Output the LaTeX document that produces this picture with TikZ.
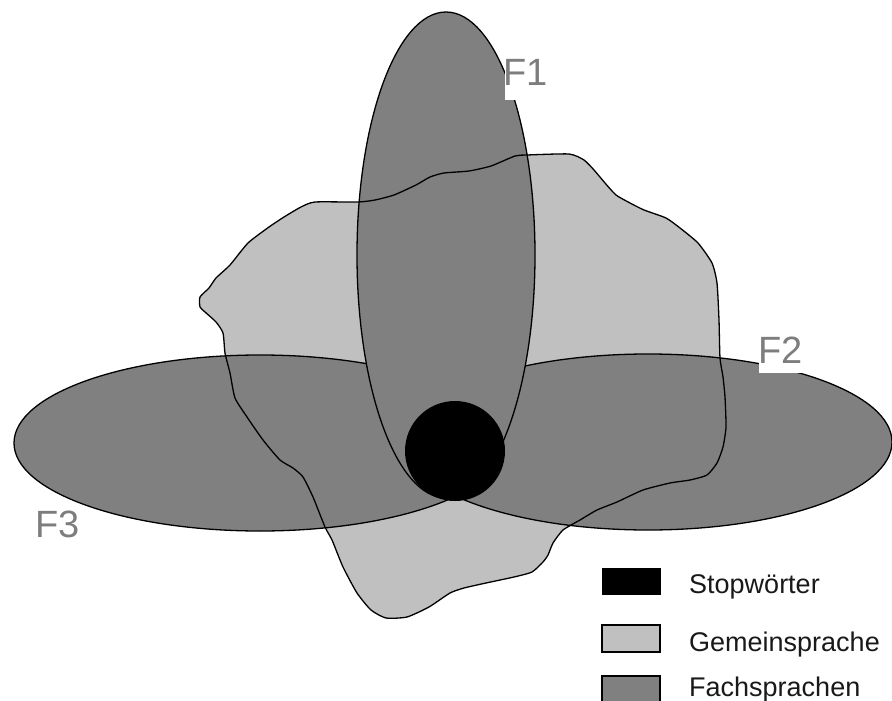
\documentclass[tikz,border=0pt]{standalone}
\usepackage{fontspec}
\setmainfont{Liberation Sans}
\definecolor{fach}{RGB}{128,128,128}
\definecolor{gemein}{RGB}{192,192,192}
\definecolor{labelgray}{RGB}{125,125,125}
\definecolor{legendtext}{RGB}{25,25,25}
\begin{document}
\begin{tikzpicture}[x=1pt,y=-1pt,
  outline/.style={draw=black,line width=1.3pt,line join=round},
  flabel/.style={inner sep=0pt,anchor=base west,text=labelgray,font=\fontsize{38}{40}\selectfont},
  labelbox/.style={fill=white,draw=none},
  legtext/.style={inner sep=0pt,anchor=base west,text=legendtext,font=\fontsize{27}{30}\selectfont},
  legbox/.style={draw=black,line width=1.3pt}]
\useasboundingbox (0,0) rectangle (892,701);
\fill[white] (0,0) rectangle (892,701);
% Gemeinsprache area (fill)
\fill[gemein] plot[smooth cycle,tension=0.35] coordinates {
(315,202) (358,202) (375,200) (394,195) (416,185) (430,177) (444,173) (469,171)
(491,166) (515,156) (527,155) (569,154) (584,160) (594,170) (605,183) (616,195)
(630,203) (644,210) (666,218) (680,228) (698,243) (712,263) (717,283) (719,320)
(720,358) (723,377) (725,397) (726,427) (723,447) (717,463) (707,475) (690,480)
(670,483) (643,490) (617,502) (597,510) (580,520) (563,530) (553,543) (548,555)
(543,562) (532,572) (514,577) (486,583) (464,588) (450,593) (429,607) (407,617)
(386,618) (371,610) (357,593) (343,567) (332,540) (325,527) (313,497) (303,477)
(293,468) (280,460) (263,440) (247,417) (235,398) (230,373) (225,353) (223,333)
(216,322) (205,312) (200,307) (200,297) (209,288) (216,278) (230,265) (248,243)
(269,227) (284,217) (301,207)};
% F3 and F2
\filldraw[fill=fach,outline] (260,443) ellipse[x radius=246pt,y radius=88pt];
\filldraw[fill=fach,outline] (648,442) ellipse[x radius=244pt,y radius=88pt];
% F1
\filldraw[fill=fach,outline] (446,255) ellipse[x radius=89pt,y radius=243pt];
% Gemeinsprache outline on top
\draw[outline] plot[smooth cycle,tension=0.35] coordinates {
(315,202) (358,202) (375,200) (394,195) (416,185) (430,177) (444,173) (469,171)
(491,166) (515,156) (527,155) (569,154) (584,160) (594,170) (605,183) (616,195)
(630,203) (644,210) (666,218) (680,228) (698,243) (712,263) (717,283) (719,320)
(720,358) (723,377) (725,397) (726,427) (723,447) (717,463) (707,475) (690,480)
(670,483) (643,490) (617,502) (597,510) (580,520) (563,530) (553,543) (548,555)
(543,562) (532,572) (514,577) (486,583) (464,588) (450,593) (429,607) (407,617)
(386,618) (371,610) (357,593) (343,567) (332,540) (325,527) (313,497) (303,477)
(293,468) (280,460) (263,440) (247,417) (235,398) (230,373) (225,353) (223,333)
(216,322) (205,312) (200,307) (200,297) (209,288) (216,278) (230,265) (248,243)
(269,227) (284,217) (301,207)};
% Stopwoerter
\fill[black] (455,451) circle[radius=50pt];
% label boxes and labels
\fill[labelbox] (505,52) rectangle (550,100);
\fill[labelbox] (759,332) rectangle (806,373);
\node[flabel] (f1) at (503,85) {F1};
\node[flabel] (f2) at (758,363) {F2};
\node[flabel] (f3) at (35,537) {F3};
% legend
\fill[black] (602,568) rectangle (661,595);
\filldraw[fill=gemein,legbox] (602,625) rectangle (660,652);
\filldraw[fill=fach,legbox] (602,676) rectangle (660,703);
\node[legtext] (l1) at (689,593) {Stopwörter};
\node[legtext] (l2) at (689,651) {Gemeinsprache};
\node[legtext] (l3) at (689,696) {Fachsprachen};
\end{tikzpicture}
\end{document}
